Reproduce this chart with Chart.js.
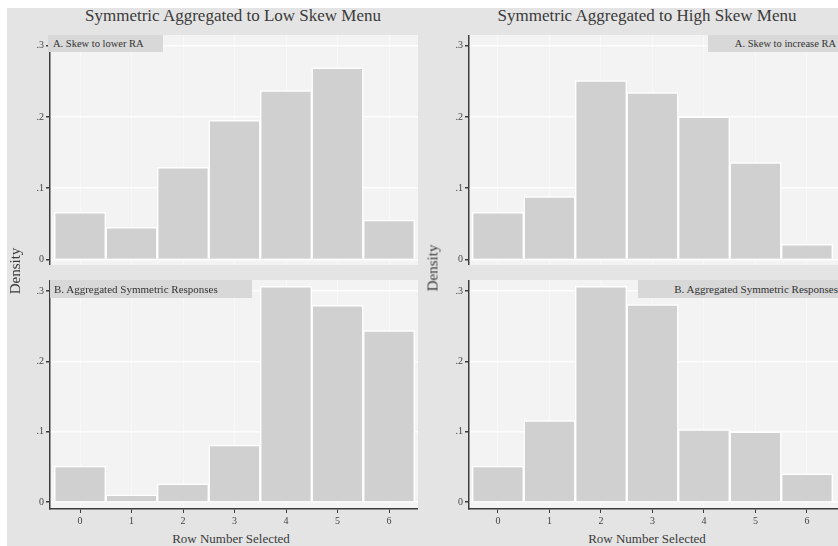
<!DOCTYPE html>
<html>
<head>
<meta charset="utf-8">
<script src="https://cdn.jsdelivr.net/npm/chart.js@4.4.1/dist/chart.umd.min.js"></script>
<style>
  html, body { margin: 0; padding: 0; background: #ffffff; }
  #wrap { position: relative; width: 838px; height: 546px; overflow: hidden; background: #ffffff; }
  #bg { position: absolute; left: 7px; top: 8px; width: 831px; height: 538px; background: #e4e4e4; }
  canvas { position: absolute; }
  .txt { position: absolute; font-family: "Liberation Serif", "DejaVu Serif", serif; color: #3a3a3a; white-space: nowrap; }
  .title { font-size: 17px; transform: translateX(-50%); top: 6px; }
  .xlab { font-size: 13px; transform: translateX(-50%); top: 531px; }
  .ylab { font-size: 15px; transform: translate(-50%, -50%) rotate(-90deg); }
  .panel { position: absolute; background: #d8d8d8; font-family: "Liberation Serif", "DejaVu Serif", serif; font-size: 10.5px; color: #333; line-height: 17px; white-space: nowrap; overflow: hidden; }
</style>
</head>
<body>
<div id="wrap">
  <div id="bg"></div>
  <canvas id="c1" width="418" height="230" style="left:0px;top:35px;width:418px;height:230px"></canvas>
  <canvas id="c2" width="419" height="230" style="left:419px;top:35px;width:419px;height:230px"></canvas>
  <canvas id="c3" width="418" height="250" style="left:0px;top:280px;width:418px;height:250px"></canvas>
  <canvas id="c4" width="419" height="250" style="left:419px;top:280px;width:419px;height:250px"></canvas>

  <div class="txt title" style="left:233px">Symmetric Aggregated to Low Skew Menu</div>
  <div class="txt title" style="left:647px">Symmetric Aggregated to High Skew Menu</div>
  <div class="txt xlab" style="left:231px">Row Number Selected</div>
  <div class="txt xlab" style="left:647px">Row Number Selected</div>
  <div class="txt ylab" style="left:15px;top:271px">Density</div>
  <div class="txt ylab" style="left:433px;top:268px">Density</div>

  <div class="panel" style="left:48px;top:35px;width:115px;height:17px;padding-left:5px;box-sizing:border-box">A. Skew to lower RA</div>
  <div class="panel" style="left:708px;top:35px;width:130px;height:17px;padding-right:2px;box-sizing:border-box;text-align:right">A. Skew to increase RA</div>
  <div class="panel" style="left:50px;top:280px;width:202px;height:18px;padding-left:4px;box-sizing:border-box;line-height:18px;font-size:11px">B. Aggregated Symmetric Responses</div>
  <div class="panel" style="left:638px;top:280px;width:200px;height:18px;padding-right:0px;box-sizing:border-box;line-height:18px;font-size:11px;text-align:right">B. Aggregated Symmetric Responses</div>
</div>

<script>
// ---- data ----
const rows = [0, 1, 2, 3, 4, 5, 6];
const lowSkewA  = [0.066, 0.045, 0.129, 0.195, 0.237, 0.269, 0.055];
const highSkewA = [0.066, 0.088, 0.251, 0.234, 0.200, 0.136, 0.021];
const lowSkewB  = [0.051, 0.010, 0.026, 0.081, 0.307, 0.280, 0.244];
const highSkewB = [0.051, 0.116, 0.307, 0.281, 0.103, 0.100, 0.040];
const yTickValues = [0, 0.1, 0.2, 0.3];
const yTickLabels = ["0", ".1", ".2", ".3"];

const FONT = "'Liberation Serif', 'DejaVu Serif', serif";
const AXIS = '#3c3c3c';

const plotBg = {
  id: 'plotBg',
  beforeDraw(chart) {
    const a = chart.chartArea, ctx = chart.ctx;
    ctx.save();
    ctx.fillStyle = '#f3f3f3';
    ctx.fillRect(a.left, a.top, a.right - a.left, a.bottom - a.top);
    ctx.restore();
  }
};

function makeChart(id, values, xr, yr, showX) {
  const data = rows.map((r, i) => ({ x: r, y: values[i] }));
  return new Chart(document.getElementById(id), {
    type: 'bar',
    data: { datasets: [{ data, backgroundColor: '#d0d0d0', borderColor: '#ffffff', borderWidth: 1.5,
      barPercentage: 1, categoryPercentage: 1 }] },
    options: {
      responsive: false, animation: false, devicePixelRatio: 1,
      layout: { padding: 0 },
      plugins: { legend: { display: false }, tooltip: { enabled: false } },
      scales: {
        x: {
          type: 'linear', min: xr[0], max: xr[1], offset: false,
          afterBuildTicks: s => { s.ticks = rows.map(v => ({ value: v })); },
          ticks: { display: showX, font: { family: FONT, size: 10 }, color: '#444', padding: 2,
                   callback: v => String(v) },
          grid: { offset: false, color: '#f8f8f8', lineWidth: 1, drawTicks: showX, tickLength: 4, tickColor: AXIS },
          border: { display: showX, color: AXIS, width: 1.5 },
          afterFit: s => { s.height = showX ? 21 : 0; s.paddingLeft = 0; s.paddingRight = 0; }
        },
        y: {
          min: yr[0], max: yr[1],
          afterBuildTicks: s => { s.ticks = yTickValues.map(v => ({ value: v })); },
          ticks: { font: { family: FONT, size: 10 }, color: '#444', padding: 2,
                   callback: v => yTickLabels[yTickValues.indexOf(Math.round(v * 10) / 10)] },
          grid: { color: '#fdfdfd', lineWidth: 1.5, drawTicks: true, tickLength: 4, tickColor: AXIS },
          border: { display: true, color: AXIS, width: 1.5 },
          afterFit: s => { s.width = 50; s.paddingTop = 0; s.paddingBottom = 0; }
        }
      }
    },
    plugins: [plotBg]
  });
}

makeChart('c1', lowSkewA,  [-0.583, 6.563], [-0.008, 0.315], false);
makeChart('c2', highSkewA, [-0.563, 6.602], [-0.008, 0.315], false);
makeChart('c3', lowSkewB,  [-0.583, 6.563], [-0.010, 0.316], true);
makeChart('c4', highSkewB, [-0.563, 6.602], [-0.010, 0.316], true);
</script>
</body>
</html>
